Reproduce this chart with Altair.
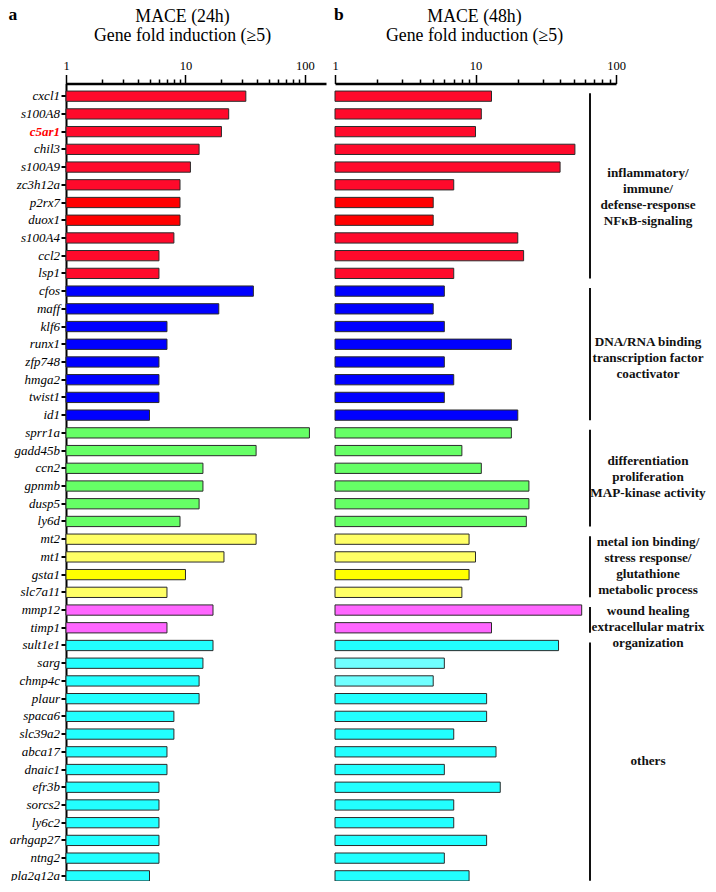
import altair as alt
import pandas as pd

# ---------------- data ----------------
genes = ["cxcl1", "s100A8", "c5ar1", "chil3", "s100A9", "zc3h12a", "p2rx7", "duox1",
         "s100A4", "ccl2", "lsp1",
         "cfos", "maff", "klf6", "runx1", "zfp748", "hmga2", "twist1", "id1",
         "sprr1a", "gadd45b", "ccn2", "gpnmb", "dusp5", "ly6d",
         "mt2", "mt1", "gsta1", "slc7a11",
         "mmp12", "timp1",
         "sult1e1", "sarg", "chmp4c", "plaur", "spaca6", "slc39a2", "abca17", "dnaic1",
         "efr3b", "sorcs2", "ly6c2", "arhgap27", "ntng2", "pla2g12a"]

group_of_gene = (["inflammatory"] * 11 + ["dna"] * 8 + ["diff"] * 6 +
                 ["metal"] * 4 + ["wound"] * 2 + ["others"] * 14)

fold_24h = [32, 23, 20, 13, 11, 9, 9, 9, 8, 6, 6,
            37, 19, 7, 7, 6, 6, 6, 5,
            109, 39, 14, 14, 13, 9,
            39, 21, 10, 7,
            17, 7,
            17, 14, 13, 13, 8, 8, 7, 7, 6, 6, 6, 6, 6, 5]

fold_48h = [13, 11, 10, 51, 40, 7, 5, 5, 20, 22, 7,
            6, 5, 6, 18, 6, 7, 6, 20,
            18, 8, 11, 24, 24, 23,
            9, 10, 9, 8,
            57, 13,
            39, 6, 5, 12, 12, 7, 14, 6, 15, 7, 7, 12, 6, 9]

deep_genes = ["p2rx7", "duox1", "gsta1"]
pale_genes_48h = ["sarg", "chmp4c"]

group_keys = ["inflammatory", "dna", "diff", "metal", "wound", "others"]
group_labels = ["inflammatory/\nimmune/\ndefense-response\nNF\u03baB-signaling",
                "DNA/RNA binding\ntranscription factor\ncoactivator",
                "differentiation\nproliferation\nMAP-kinase activity",
                "metal ion binding/\nstress response/\nglutathione\nmetabolic process",
                "wound healing\nextracellular matrix\norganization",
                "others"]

panel_letters = ["a", "b"]
panel_titles = ["MACE (24h)", "MACE (48h)"]
subtitle_line = "Gene fold induction (\u22655)"

tick_values = [1, 2, 3, 4, 5, 6, 7, 8, 9, 10, 20, 30, 40, 50, 60, 70, 80, 90, 100]
highlight_gene = "c5ar1"

# ---------------- tables ----------------
def tones(pale):
    out = []
    for g, grp in zip(genes, group_of_gene):
        if g in deep_genes:
            out.append(grp + "-deep")
        elif g in pale:
            out.append(grp + "-pale")
        else:
            out.append(grp)
    return out

df_a = pd.DataFrame({"gene": genes, "fold": fold_24h, "tone": tones([])})
df_b = pd.DataFrame({"gene": genes, "fold": fold_48h, "tone": tones(pale_genes_48h)})

firsts, lasts = [], []
for k in group_keys:
    idx = [i for i, g in enumerate(group_of_gene) if g == k]
    firsts.append(genes[idx[0]])
    lasts.append(genes[idx[-1]])
df_groups = pd.DataFrame({"first": firsts, "last": lasts, "label": group_labels})

# ---------------- styles ----------------
SERIF = "Liberation Serif"
tone_domain = ["inflammatory", "inflammatory-deep", "dna", "diff", "metal", "metal-deep",
               "wound", "others", "others-pale"]
tone_range = ["#ff0a2b", "#ff0000", "#0000ff", "#66ff66", "#ffff66", "#ffff00",
              "#ff66ff", "#22ffff", "#70ffff"]
color_scale = alt.Scale(domain=tone_domain, range=tone_range)

PLOT_H = 800
STEP = PLOT_H / (45 - 0.42 + 2 * 0.284)
LABEL_LH = 16
HEAD_Y = -62.5
LETTER_Y = -63.5


def yscale():
    return alt.Scale(domain=genes, paddingInner=0.42, paddingOuter=0.284,
                     align=0.75, round=False)


major_test = "datum.value == 1 || datum.value == 10 || datum.value == 100"


def x_axis(head, title_x):
    return alt.Axis(orient="top", values=tick_values,
                    labelExpr="(" + major_test + ") ? format(datum.value, 'd') : ''",
                    tickSize={"condition": {"test": major_test, "value": 9}, "value": 4.5},
                    tickWidth=1.5, tickColor="black", domainColor="black", domainWidth=2.5,
                    labelFont=SERIF, labelFontSize=12.5, labelColor="black",
                    labelPadding=2, labelFlush=False, labelOverlap=False, grid=False,
                    title=[head, subtitle_line], titleFont=SERIF, titleFontSize=17.8,
                    titleFontWeight="normal", titleColor="black", titleLineHeight=19,
                    titleAngle=0, titleAlign="center", titleBaseline="alphabetic",
                    titleX=title_x, titleY=HEAD_Y)


def y_axis(show_labels):
    kw = dict(orient="left", title=None,
              tickSize=5, tickWidth=2, tickColor="black", domainColor="black",
              domainWidth=2, grid=False, labels=show_labels)
    if show_labels:
        kw.update(labelFont=SERIF, labelFontStyle="italic", labelFontSize=13,
                  labelPadding=1.5, labelLimit=200,
                  labelColor={"condition": {"test": "datum.value == '%s'" % highlight_gene,
                                            "value": "#ff0000"}, "value": "black"},
                  labelFontWeight={"condition": {"test": "datum.value == '%s'" % highlight_gene,
                                                 "value": "bold"}, "value": "normal"})
    return alt.Axis(**kw)


def letter(t, px):
    return alt.Chart(pd.DataFrame({"letter": [t]})).mark_text(
        font=SERIF, fontSize=17.5, fontWeight="bold", color="black",
        align="left", baseline="alphabetic"
    ).encode(x=alt.value(px), y=alt.value(LETTER_Y), text="letter:N")


def bars(df, domain_max, head, title_x, show_labels):
    return alt.Chart(df).mark_bar(stroke="#2b2b2b", strokeWidth=1).encode(
        x=alt.X("fold:Q", scale=alt.Scale(type="log", domain=[1, domain_max], nice=False),
                axis=x_axis(head, title_x)),
        x2=alt.datum(1),
        y=alt.Y("gene:N", scale=yscale(), axis=y_axis(show_labels)),
        color=alt.Color("tone:N", scale=color_scale, legend=None),
    )


panel_a = alt.layer(
    bars(df_a, 150, panel_titles[0], 116, True),
    letter(panel_letters[0], -57.5),
).properties(width=260, height=PLOT_H)

bars_b = bars(df_b, 100, panel_titles[1], 139, False)

rules = alt.Chart(df_groups).mark_rule(color="#111111", strokeWidth=2, yOffset=-3,
                                       y2Offset=5).encode(
    x=alt.value(255),
    y=alt.Y("first:N", scale=yscale(), axis=None),
    y2="last:N",
)

# label placement offsets (in rows) relative to the group's centre
label_shift_rows = [0.7, 0.3, 0.0, 0.0, 0.47, 0.0]
texts = []
for k, lab, shift in zip(group_keys, group_labels, label_shift_rows):
    idx = [i for i, g in enumerate(group_of_gene) if g == k]
    mid = (idx[0] + idx[-1]) / 2
    anchor_i = int(mid)
    n_lines = lab.count("\n") + 1
    dy = (mid - anchor_i + shift) * STEP - (n_lines - 1) / 2 * LABEL_LH
    texts.append(
        alt.Chart(pd.DataFrame({"anchor": [genes[anchor_i]], "label": [lab]}))
        .mark_text(font=SERIF, fontSize=13.2, fontWeight="bold", color="#111111",
                   align="center", baseline="middle", lineBreak="\n",
                   lineHeight=LABEL_LH, dy=dy)
        .encode(x=alt.value(313), y=alt.Y("anchor:N", scale=yscale(), axis=None),
                text="label:N")
    )

panel_b = alt.layer(bars_b, rules, *texts, letter(panel_letters[1], -1)).properties(
    width=281, height=PLOT_H)

chart = alt.hconcat(panel_a, panel_b, spacing=5).properties(
    padding={"left": 0, "top": -2.5, "right": 0, "bottom": -3},
    background="white",
).configure_view(stroke=None)

chart.save("out.html", embed_options={"renderer": "svg", "actions": False})
